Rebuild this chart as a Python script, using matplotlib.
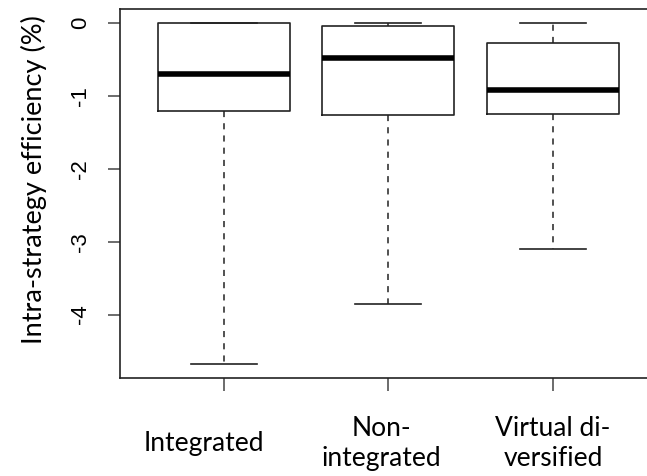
"""
Boxplot of intra-strategy efficiency for three strategies.
"""

import matplotlib
matplotlib.use('Agg')
import matplotlib.pyplot as plt
import matplotlib.transforms as mtransforms

categories = ['Integrated', 'Non-\nintegrated', 'Virtual di-\nversified']
whis_hi = [0.0, 0.0, 0.0]
q3 = [0.0, -0.045, -0.28]
medians = [-0.70, -0.48, -0.92]
q1 = [-1.21, -1.26, -1.25]
whis_lo = [-4.68, -3.86, -3.10]
yticks = [0, -1, -2, -3, -4]
label_shift_px = [-20, -7, 0]


def main():
    fig = plt.figure(figsize=(6.47, 4.76), dpi=100)
    ax = fig.add_axes([120/647, 98/476, 535/647, 369/476])

    stats = []
    for i in range(len(categories)):
        stats.append(dict(med=medians[i], q1=q1[i], q3=q3[i],
                          whislo=whis_lo[i], whishi=whis_hi[i]))

    ax.bxp(stats, positions=[1, 2, 3], widths=0.8, capwidths=0.4,
           showfliers=False,
           boxprops=dict(color='#222222', linewidth=1.2),
           medianprops=dict(color='black', linewidth=4, solid_capstyle='butt'),
           whiskerprops=dict(color='#222222', linewidth=1.1, linestyle=(0, (4, 4))),
           capprops=dict(color='#222222', linewidth=1.2))

    ax.set_xlim(0.37, 3.62)
    ax.set_ylim(-4.87, 0.19)
    for s in ax.spines.values():
        s.set_linewidth(1.2)
        s.set_color('#222222')

    ax.set_yticks(yticks)
    ax.set_yticklabels([str(v) for v in yticks], rotation=90, va='center',
                       fontsize=16, family='Liberation Sans')
    ax.tick_params(axis='y', length=9, width=1.1, pad=12, color='#444444')

    ax.set_xticks([1, 2, 3])
    ax.set_xticklabels(categories, va='center', fontsize=19, family='Lato',
                       linespacing=1.25)
    ax.tick_params(axis='x', length=9, width=1.1, pad=38, color='#444444')
    for lab, dx in zip(ax.get_xticklabels(), label_shift_px):
        off = mtransforms.ScaledTranslation(dx / 100, 0, fig.dpi_scale_trans)
        lab.set_transform(lab.get_transform() + off)

    fig.text(34/647, 1 - 180/476, 'Intra-strategy efficiency (%)', rotation=90,
             ha='center', va='center', fontsize=19.5, family='Lato')

    fig.savefig('out.png', dpi=100)


if __name__ == '__main__':
    main()
